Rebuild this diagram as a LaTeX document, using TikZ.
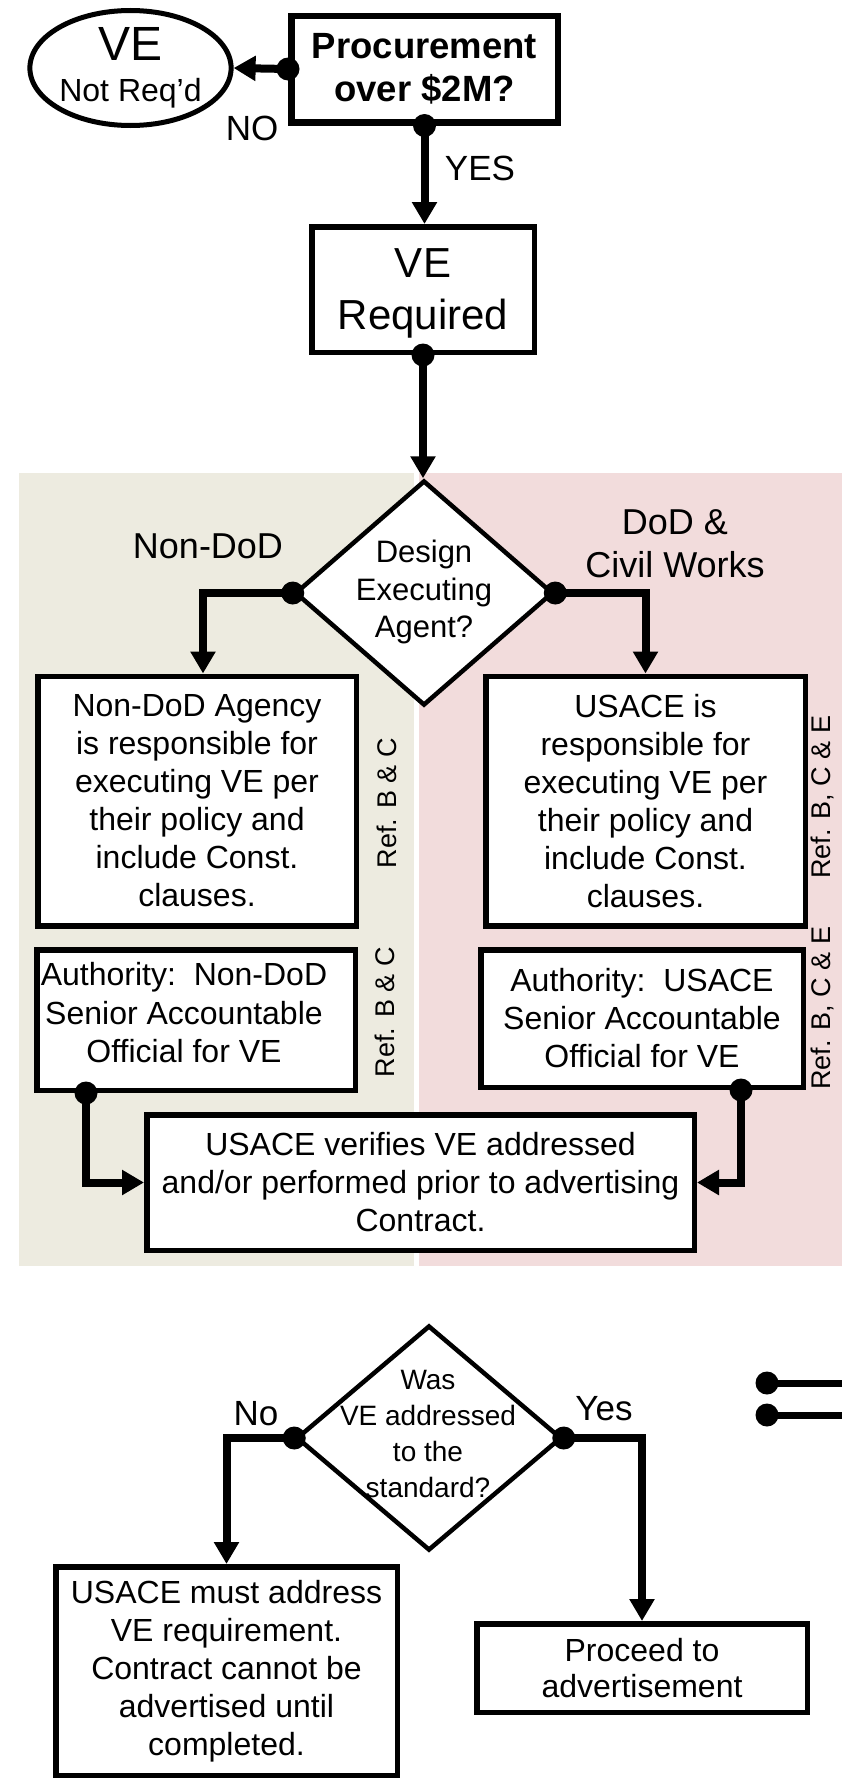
\documentclass[tikz,border=0pt]{standalone}
\usepackage{fontspec}
\setmainfont{Liberation Sans}
\usetikzlibrary{arrows.meta,shapes.geometric}

\definecolor{nondodbg}{RGB}{237,235,224}
\definecolor{dodbg}{RGB}{242,220,220}

\newcommand{\fsz}[2]{\fontsize{#1}{#2}\selectfont}

\begin{document}
\begin{tikzpicture}[x=1pt,y=-1pt,
    box/.style={draw, line width=5.5pt, fill=white, align=center, inner sep=0pt, font=\fsz{32}{38}},
    decide/.style={diamond, draw, line width=4.5pt, fill=white, inner sep=0pt},
    conn/.style={line width=8pt, -{Triangle[length=22pt,width=24pt]}},
    lbl/.style={anchor=base, font=\fsz{35}{42}},
    ref/.style={rotate=90, font=\fsz{27}{32}}]
  \useasboundingbox (0,0) rectangle (842,1780);

  % swim lanes
  \fill[nondodbg] (19,473) rectangle (414,1266);
  \fill[dodbg] (419,473) rectangle (842,1266);

  \node[box, line width=6.5pt, minimum width=266.5pt, minimum height=106.5pt, font=\bfseries\fsz{36.5}{43}] (proc) at (424.5,69) {Procurement\\over \$2M?};
  \node[ellipse, draw, line width=5pt, fill=white, inner sep=0pt, align=center, minimum width=200pt, minimum height=115pt, font=\fsz{32}{41}] (notreq) at (130.5,68) {\fsz{48}{48}VE\\Not Req’d};
  \node[box, minimum width=222.5pt, minimum height=125.5pt, text depth=0pt, font=\fsz{42}{52}] (vereq) at (423,289.5) {VE\\Required};

  \node[decide, minimum width=258pt, minimum height=225pt] (design) at (424,593) {};
  \node[align=center, font=\fsz{31}{37.5}] (designtxt) at (424,592) {Design\\Executing\\Agent?};
  \node[font=\fsz{36}{43}] (nondodlbl) at (208,546) {Non-DoD};
  \node[align=center, font=\fsz{36}{43}] (dodlbl) at (675,544) {DoD \&\\Civil Works};

  \node[box, minimum width=318.5pt, minimum height=249.5pt] (nondod) at (197,801) {Non-DoD Agency\\is responsible for\\executing VE per\\their policy and\\include Const.\\clauses.};
  \node[box, minimum width=319.5pt, minimum height=249.5pt] (usace) at (645.5,801) {USACE is\\responsible for\\executing VE per\\their policy and\\include Const.\\clauses.};

  \node[box, minimum width=318.5pt, minimum height=140.5pt] (authL) at (196,1020) {};
  \node[align=center, font=\fsz{32}{38.5}] (authLtxt) at (184,1013) {Authority:\ \ Non-DoD\\Senior Accountable\\Official for VE};
  \node[box, minimum width=322.5pt, minimum height=137.5pt] (authR) at (642,1018.5) {Authority:\ \ USACE\\Senior Accountable\\Official for VE};

  \node[ref] (refA) at (387,803) {Ref. B \& C};
  \node[ref] (refB) at (385,1012) {Ref. B \& C};
  \node[ref] (refC) at (822,797) {Ref. B, C \& E};
  \node[ref] (refD) at (822,1008) {Ref. B, C \& E};

  \node[box, minimum width=547.5pt, minimum height=135.5pt] (verify) at (420.5,1182.5) {USACE verifies VE addressed\\and/or performed prior to advertising\\Contract.};

  \node[decide, minimum width=265pt, minimum height=225pt] (was) at (429,1438) {};
  \node[align=center, font=\fsz{28}{36}] (wastxt) at (428,1434) {Was\\VE addressed\\to the\\standard?};
  \node[box, minimum width=341.5pt, minimum height=208.5pt] (must) at (226.5,1671) {USACE must address\\VE requirement.\\Contract cannot be\\advertised until\\completed.};
  \node[box, minimum width=330.5pt, minimum height=88.5pt, font=\fsz{32}{36}] (proceed) at (642,1668) {Proceed to\\advertisement};

  \node[lbl] (nolbl) at (252,140) {NO};
  \node[lbl] (yeslbl) at (480,180) {YES};
  \node[lbl] (nolbl2) at (256,1425) {No};
  \node[lbl] (yeslbl2) at (604,1420) {Yes};

  \coordinate (dotL) at ([xshift=52pt]authL.south west);
  \coordinate (dotR) at ([xshift=-65pt]authR.south east);
  \coordinate (k1) at (767,1383);
  \coordinate (k1end) at (842,1383);
  \coordinate (k2) at (767,1415);
  \coordinate (k2end) at (842,1415);

  \draw[conn] (proc.west) -- (notreq.east);
  \draw[conn] (proc.south) -- (proc.south |- vereq.north);
  \draw[conn] (vereq.south) -- (vereq.south |- design.north);
  \draw[conn] (design.west) -| ([xshift=6pt]nondod.north);
  \draw[conn] (design.east) -| (usace.north);
  \draw[conn] (dotL) |- (verify.west);
  \draw[conn] (dotR) |- (verify.east);
  \draw[conn] (was.west) -| (must.north);
  \draw[conn] (was.east) -| (proceed.north);
  \draw[line width=7pt] (k1) -- (k1end);
  \draw[line width=7pt] (k2) -- (k2end);

  \foreach \p in {proc.west, proc.south, vereq.south, design.west, design.east, dotL, dotR, was.west, was.east, k1, k2}{
    \fill (\p) circle (11.5pt);
  }
\end{tikzpicture}
\end{document}
